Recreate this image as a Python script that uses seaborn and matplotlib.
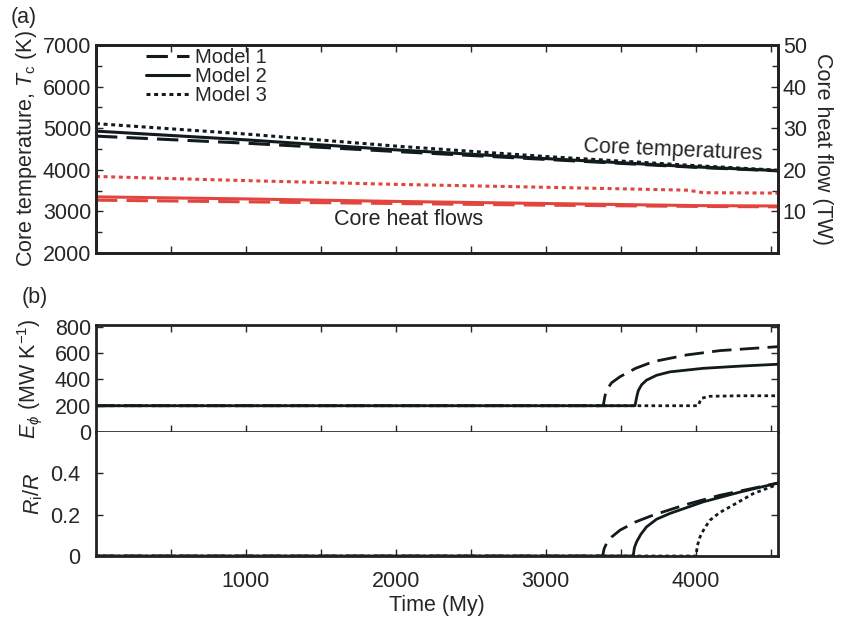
import numpy as np
import pandas as pd
import seaborn as sns
import matplotlib.pyplot as plt
from matplotlib.lines import Line2D

# panel (a): core temperature (K) and core heat flow (TW) vs time (My)
time_a = [0, 1000, 2000, 3000, 4000, 4550]
tc_m1 = [4810, 4640, 4440, 4250, 4060, 3975]
tc_m2 = [4930, 4720, 4480, 4270, 4070, 3980]
tc_m3 = [5110, 4860, 4570, 4320, 4100, 3990]
qc_m1 = [12.7, 12.3, 11.9, 11.5, 11.2, 11.1]
qc_m2 = [13.5, 13.0, 12.4, 11.9, 11.4, 11.3]
time_q3 = [0, 1000, 2000, 3000, 3950, 4050, 4550]
qc_m3 = [18.4, 17.4, 16.5, 15.8, 15.1, 14.5, 14.4]

# panel (b): ohmic entropy E_phi (MW/K)
time_e1 = [0, 3384, 3395, 3406, 3440, 3496, 3600, 3718, 3941, 4163, 4550]
e_m1 = [200, 200, 270, 320, 375, 421, 485, 536, 587, 620, 650]
time_e2 = [0, 3596, 3607, 3618, 3640, 3673, 3740, 3829, 4051, 4300, 4550]
e_m2 = [200, 200, 265, 315, 360, 395, 432, 458, 485, 502, 516]
time_e3 = [0, 4018, 4030, 4040, 4096, 4300, 4550]
e_m3 = [200, 200, 235, 257, 272, 276, 276]

# inner core radius R_i/R
time_r1 = [0, 3380, 3390, 3406, 3440, 3496, 3600, 3718, 3941, 4163, 4550]
r_m1 = [0, 0, 0.035, 0.061, 0.092, 0.125, 0.165, 0.198, 0.25, 0.294, 0.353]
time_r2 = [0, 3584, 3592, 3607, 3635, 3673, 3740, 3829, 4051, 4300, 4550]
r_m2 = [0, 0, 0.04, 0.069, 0.105, 0.141, 0.178, 0.206, 0.262, 0.31, 0.353]
time_r3 = [0, 4003, 4012, 4030, 4060, 4096, 4160, 4230, 4385, 4550]
r_m3 = [0, 0, 0.05, 0.093, 0.135, 0.173, 0.21, 0.238, 0.302, 0.347]

models = ['Model 1', 'Model 2', 'Model 3']
styles = [(0, (7, 3)), '-', (0, (1.3, 1.2))]
red = '#e2453e'
ink = '#111a1c'

sns.set_style('ticks')
plt.rcParams['font.family'] = ['Liberation Sans', 'DejaVu Sans']
plt.rcParams['mathtext.fontset'] = 'custom'
plt.rcParams['mathtext.rm'] = 'Liberation Sans'
plt.rcParams['mathtext.it'] = 'Liberation Sans:italic'
fs = 15.5

fig = plt.figure(figsize=(8.44, 6.18), dpi=100)
ax_t = fig.add_axes([0.1137, 0.5906, 0.8081, 0.3366])
ax_q = ax_t.twinx()
ax_e = fig.add_axes([0.1137, 0.3010, 0.8081, 0.1731])
ax_r = fig.add_axes([0.1137, 0.1003, 0.8081, 0.2007])

tc = [(time_a, tc_m1), (time_a, tc_m2), (time_a, tc_m3)]
qc = [(time_a, qc_m1), (time_a, qc_m2), (time_q3, qc_m3)]
ee = [(time_e1, e_m1), (time_e2, e_m2), (time_e3, e_m3)]
rr = [(time_r1, r_m1), (time_r2, r_m2), (time_r3, r_m3)]

for i in range(3):
    sns.lineplot(x=tc[i][0], y=tc[i][1], ax=ax_t, color=ink, lw=2.2,
                 linestyle=styles[i], estimator=None)
    sns.lineplot(x=qc[i][0], y=qc[i][1], ax=ax_q, color=red, lw=2.2,
                 linestyle=styles[i], estimator=None)
    sns.lineplot(x=ee[i][0], y=ee[i][1], ax=ax_e, color=ink, lw=2.0,
                 linestyle=styles[i], estimator=None)
    sns.lineplot(x=rr[i][0], y=rr[i][1], ax=ax_r, color=ink, lw=2.0,
                 linestyle=styles[i], estimator=None)

xmax = 4550
for ax in [ax_t, ax_q, ax_e, ax_r]:
    ax.set_xlim(0, xmax)
    for s in ax.spines.values():
        s.set_linewidth(2)
        s.set_color('#222222')
for ax in [ax_t, ax_e, ax_r]:
    ax.set_xticks(np.arange(500, 4501, 500))

# top panel
ax_t.set_ylim(2000, 7000)
ax_t.set_yticks(np.arange(2000, 7001, 1000))
ax_t.set_yticks(np.arange(2500, 7000, 1000), minor=True)
ax_t.set_xticklabels([])
ax_t.tick_params(axis='both', which='both', direction='in', labelsize=fs, top=True, length=5, width=1)
ax_t.tick_params(axis='y', which='minor', length=4)
ax_t.set_ylabel('Core temperature, $T_{\\mathrm{c}}$ (K)', fontsize=fs, labelpad=3)

ax_q.set_ylim(0, 50)
ax_q.set_yticks([10, 20, 30, 40, 50])
ax_q.set_yticks([5, 15, 25, 35, 45], minor=True)
ax_q.tick_params(axis='y', which='both', direction='in', labelsize=fs, length=5, width=1)
ax_q.tick_params(axis='y', which='minor', length=4)
ax_q.set_ylabel('Core heat flow (TW)', fontsize=fs, rotation=270, labelpad=19)

handles = [Line2D([], [], color=ink, lw=2.2, linestyle=st) for st in styles]
ax_t.legend(handles, models, loc='upper left', bbox_to_anchor=(0.056, 1.045), frameon=False,
            fontsize=14.5, handlelength=2.1, handletextpad=0.3, labelspacing=0.0,
            borderaxespad=0.2)

ax_t.text(3850, 4130, 'Core temperatures', fontsize=fs, rotation=-2.5, ha='center', va='bottom')
ax_t.text(2088, 2800, 'Core heat flows', fontsize=fs, ha='center', va='center')

# E_phi panel
ax_e.set_ylim(0, 815)
ax_e.set_yticks([0, 200, 400, 600, 800])
ax_e.set_xticklabels([])
ax_e.tick_params(axis='both', which='both', direction='in', labelsize=fs, top=True, right=True,
                 length=5, width=1)
ax_e.set_ylabel('$E_{\\phi}$ (MW K$^{-1}$)', fontsize=fs, labelpad=8)
ax_e.spines['bottom'].set_linewidth(1.2)

# R_i/R panel
ax_r.set_ylim(0, 0.6)
ax_r.set_yticks([0, 0.2, 0.4])
ax_r.set_yticklabels(['0', '0.2', '0.4'])
ax_r.set_xticklabels(['', '1000', '', '2000', '', '3000', '', '4000', ''])
ax_r.tick_params(axis='both', which='both', direction='in', labelsize=fs, top=False, right=True,
                 length=5, width=1, pad=11)
ax_r.set_ylabel('$R_{\\mathrm{i}}/R$', fontsize=fs, labelpad=4)
ax_r.set_xlabel('Time (My)', fontsize=fs, labelpad=2)
ax_r.spines['top'].set_visible(False)

fig.text(0.012, 0.972, '(a)', fontsize=fs, ha='left', va='center')
fig.text(0.026, 0.518, '(b)', fontsize=fs, ha='left', va='center')

fig.savefig('out.png', dpi=100)
